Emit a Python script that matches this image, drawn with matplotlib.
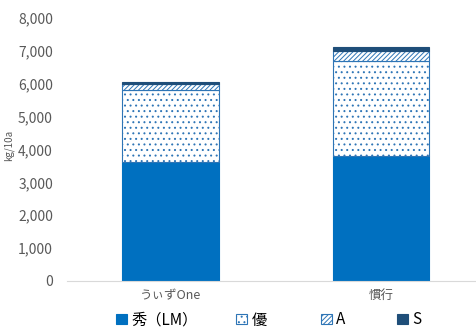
import matplotlib
matplotlib.use("Agg")
import matplotlib.pyplot as plt
from matplotlib.ticker import FuncFormatter

plt.rcParams['font.family'] = ['Noto Sans CJK JP', 'DejaVu Sans']
plt.rcParams['hatch.linewidth'] = 0.7

categories = ['うぃずOne', '慣行']
series = ['秀（LM）', '優', 'A', 'S']
shu = [3620, 3800]
yu = [2190, 2900]
a_rank = [170, 305]
s_rank = [85, 100]

values = [shu, yu, a_rank, s_rank]
faces = ['#0070C0', 'white', 'white', '#1F4E79']
edges = ['#0070C0', '#2E75B6', '#2E75B6', '#1F4E79']
hatches = [None, '...', '///////', None]

fig = plt.figure(figsize=(4.77, 3.34), dpi=100)
ax = fig.add_axes([0.14, 0.159, 0.86, 0.787])

x = list(range(len(categories)))
bottom = [0] * len(categories)
handles = []
for vals, fc, ec, h, name in zip(values, faces, edges, hatches, series):
    bars = ax.bar(x, vals, width=0.46, bottom=bottom, color=fc, edgecolor=ec,
                  hatch=h, linewidth=0.8, label=name)
    handles.append(bars)
    bottom = [b + v for b, v in zip(bottom, vals)]

ax.set_xlim(-0.495, 1.457)
ax.set_ylim(0, 8000)
ax.set_yticks(range(0, 8001, 1000))
ax.yaxis.set_major_formatter(FuncFormatter(lambda v, p: f'{int(v):,}'))
ax.set_xticks(x)
ax.set_xticklabels(categories)

for s in ['top', 'right', 'left']:
    ax.spines[s].set_visible(False)
ax.spines['bottom'].set_color('#D9D9D9')
ax.tick_params(axis='both', length=0, colors='#595959', labelsize=10)
ax.tick_params(axis='x', labelsize=9, pad=6)
ax.tick_params(axis='y', pad=10)

fig.text(0.018, 0.565, 'kg/10a', rotation=90, fontsize=7, color='#595959',
         ha='center', va='center')

# legend entries placed one by one, like the spreadsheet layout
legend_x = [0.243, 0.495, 0.673, 0.832]
for hnd, name, lx in zip(handles, series, legend_x):
    fig.legend(handles=[hnd], labels=[name], loc='center left',
               bbox_to_anchor=(lx, 0.042), frameon=False, fontsize=11,
               handlelength=0.7, handleheight=0.7, handletextpad=0.3,
               borderpad=0, borderaxespad=0)

fig.savefig('out.png', dpi=100)
